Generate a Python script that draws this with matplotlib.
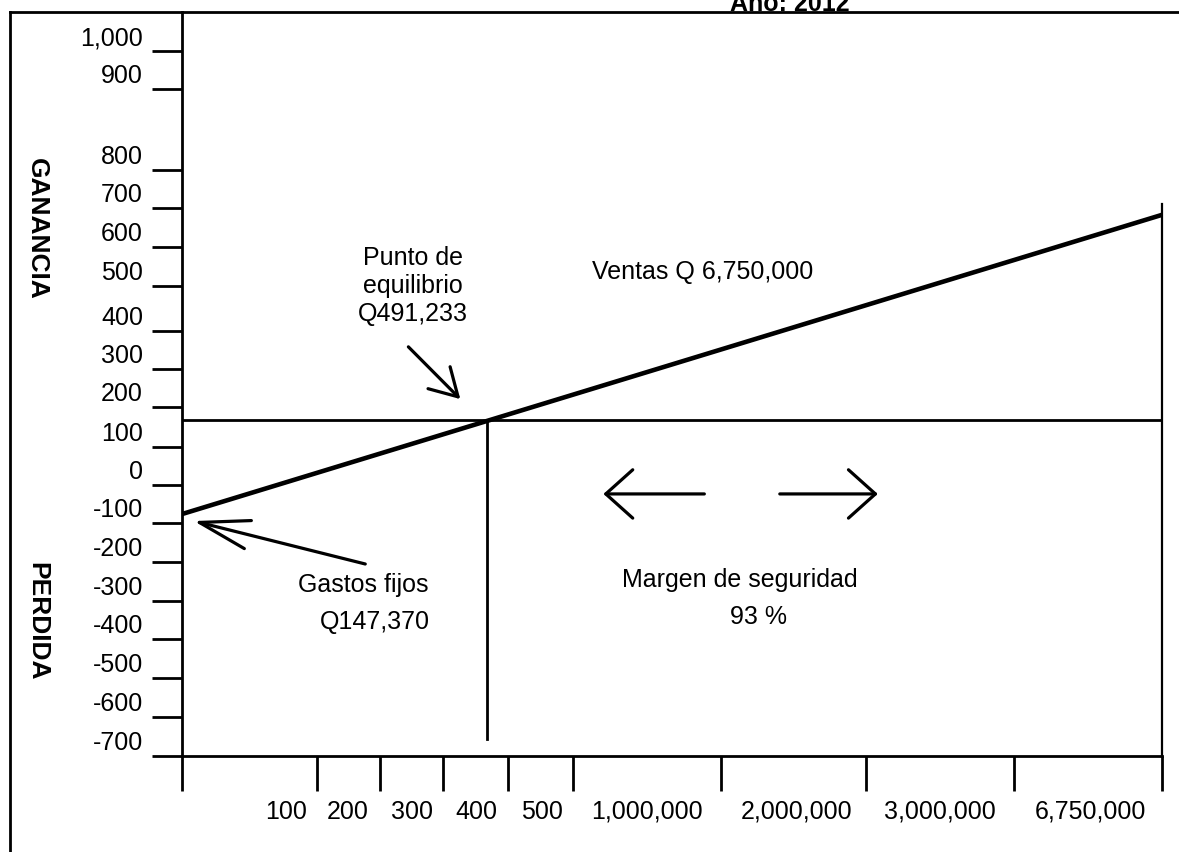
import matplotlib
matplotlib.use("Agg")
import matplotlib.pyplot as plt

plt.rcParams['font.family'] = ['Liberation Sans', 'DejaVu Sans']

# Eje vertical: ganancia / perdida (etiquetas y posicion de cada marca en la escala dibujada)
ytick_labels = ['1,000', '900', '800', '700', '600', '500', '400', '300', '200',
                '100', '0', '-100', '-200', '-300', '-400', '-500', '-600', '-700']
ytick_pos = [1121, 1023, 814, 716, 615, 514, 398, 300, 202,
             98, 0, -98, -199, -300, -398, -499, -599, -700]

# Eje horizontal: ventas
xtick_labels = ['100', '200', '300', '400', '500',
                '1,000,000', '2,000,000', '3,000,000', '6,750,000']
xlabel_pos = [10.6, 16.9, 23.5, 30.0, 36.7, 47.4, 62.7, 77.3, 92.7]
xtick_pos = [0, 13.8, 20.2, 26.6, 33.3, 39.9, 55.0, 69.8, 84.9, 100]

# Lineas
ventas_x = [0, 100]
ventas_y = [-75, 698]
gastos_fijos_nivel = 168
equilibrio_x = 31.1
equilibrio_base = -656

W, H = 1179, 853
FS = 18


def px_box(left, top, right, bottom):
    return [left / W, 1 - bottom / H, (right - left) / W, (bottom - top) / H]


def main():
    fig = plt.figure(figsize=(W / 100, H / 100), dpi=100)

    # marco exterior (solo izquierda y arriba son visibles en la imagen)
    frame = fig.add_axes(px_box(10, 13, 1400, 1000), zorder=0)
    frame.patch.set_visible(False)
    frame.set_xticks([])
    frame.set_yticks([])
    for side in ['right', 'bottom']:
        frame.spines[side].set_visible(False)
    for side in ['left', 'top']:
        frame.spines[side].set_linewidth(2)

    ax = fig.add_axes(px_box(182, 13, 1162, 757), zorder=1)
    ax.patch.set_visible(False)
    ax.set_xlim(0, 100)
    ax.set_ylim(-700, 1222)
    ax.spines['top'].set_visible(False)
    ax.spines['right'].set_bounds(-700, 726)
    for side in ['left', 'bottom', 'right']:
        ax.spines[side].set_linewidth(2)
    ax.spines['right'].set_linewidth(1.6)

    ax.set_yticks(ytick_pos)
    ax.set_xticks(xtick_pos)
    ax.tick_params(axis='y', direction='out', length=21.6, width=2, labelleft=False)
    ax.tick_params(axis='x', direction='out', length=25.2, width=2, labelbottom=False)

    for lab, pos in zip(ytick_labels, ytick_pos):
        ax.annotate(lab, xy=(0, pos), xytext=(-28, 5), textcoords='offset points',
                    ha='right', va='baseline', fontsize=FS)
    for lab, pos in zip(xtick_labels, xlabel_pos):
        ax.annotate(lab, xy=(pos, -700), xytext=(0, -44.6), textcoords='offset points',
                    ha='center', va='baseline', fontsize=FS)

    # lineas principales
    ax.axhline(gastos_fijos_nivel, color='black', lw=2)
    ax.plot(ventas_x, ventas_y, color='black', lw=3.3, solid_capstyle='butt')
    ax.plot([equilibrio_x, equilibrio_x], [gastos_fijos_nivel, equilibrio_base],
            color='black', lw=2)

    # textos
    ax.text(23.6, 517, 'Punto de\nequilibrio\nQ491,233', ha='center', va='center',
            fontsize=FS, linespacing=1.2)
    ax.text(53.1, 553, 'Ventas Q 6,750,000', ha='center', va='center', fontsize=FS)
    ax.text(11.8, -256, 'Gastos fijos', ha='left', va='center', fontsize=FS)
    ax.text(14.1, -351, 'Q147,370', ha='left', va='center', fontsize=FS)
    ax.text(56.9, -243, 'Margen de seguridad', ha='center', va='center', fontsize=FS)
    ax.text(58.8, -338, '93 %', ha='center', va='center', fontsize=FS)

    # flechas
    def arrow(tip, tail, hl, hw):
        ax.annotate('', xy=tip, xytext=tail,
                    arrowprops=dict(arrowstyle=f'->,head_length={hl},head_width={hw}',
                                    lw=2.3, color='black', mutation_scale=20,
                                    shrinkA=0, shrinkB=0))

    arrow((28.4, 222), (23.1, 357), 0.97, 0.56)
    arrow((1.2, -93), (18.7, -204), 1.8, 0.52)
    arrow((43.0, -23), (53.3, -23), 0.97, 0.87)
    arrow((71.0, -23), (61.0, -23), 0.97, 0.87)

    # titulo (cortado arriba en el original) y rotulos laterales
    fig.text(790 / W, 1 - 11 / H, 'Año: 2012', ha='center', va='baseline',
             fontsize=FS, fontweight='bold')
    fig.text(37 / W, 1 - 229 / H, 'GANANCIA', ha='center', va='center',
             rotation=-90, fontsize=19, fontweight='bold')
    fig.text(37 / W, 1 - 621 / H, 'PERDIDA', ha='center', va='center',
             rotation=-90, fontsize=19, fontweight='bold')

    fig.savefig('out.png', dpi=100)
    plt.close(fig)


if __name__ == "__main__":
    main()
